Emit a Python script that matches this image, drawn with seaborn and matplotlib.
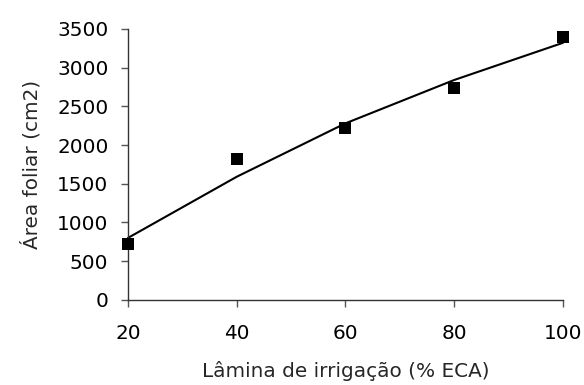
import matplotlib
matplotlib.use('Agg')
import matplotlib.pyplot as plt
import seaborn as sns
import pandas as pd

# dados
lamina = [20, 40, 60, 80, 100]
area_obs = [723, 1820, 2220, 2735, 3395]
area_ajust = [800, 1590, 2280, 2840, 3320]

sns.set_style('white')
plt.rcParams['font.family'] = ['DejaVu Sans']

df = pd.DataFrame({'lamina': lamina, 'obs': area_obs, 'ajust': area_ajust})

fig, ax = plt.subplots(figsize=(5.84, 3.85), dpi=100)
sns.lineplot(data=df, x='lamina', y='ajust', color='black', linewidth=1.5, ax=ax)
sns.scatterplot(data=df, x='lamina', y='obs', marker='s', s=65, color='black',
                edgecolor='black', linewidth=0, ax=ax, zorder=3)

ax.set_xlim(20, 100)
ax.set_ylim(0, 3500)
ax.set_xticks([20, 40, 60, 80, 100])
ax.set_yticks(range(0, 3501, 500))
ax.tick_params(axis='both', labelsize=14.4, direction='out', length=5, width=1,
               colors='#555555', labelcolor='black', bottom=True, left=True)
ax.tick_params(axis='y', pad=9)
ax.tick_params(axis='x', pad=12)
for s in ['top', 'right']:
    ax.spines[s].set_visible(False)
for s in ['left', 'bottom']:
    ax.spines[s].set_color('#333333')
    ax.spines[s].set_linewidth(1)

ax.set_xlabel('Lâmina de irrigação (% ECA)', fontsize=14.4, labelpad=13)
ax.set_ylabel('Área foliar (cm2)', fontsize=14.4, labelpad=11)
for c in ax.collections + ax.lines:
    c.set_clip_on(False)

plt.subplots_adjust(left=0.219, right=0.964, top=0.925, bottom=0.221)
plt.savefig('out.png', dpi=100)
